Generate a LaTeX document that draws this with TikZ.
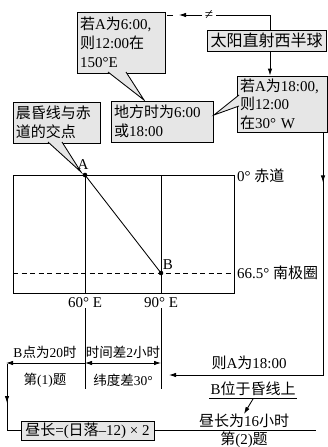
\documentclass[tikz,border=0pt]{standalone}
\usepackage{fontspec}
\setmainfont{Liberation Serif}
\newfontfamily\cjk{Noto Sans CJK SC}
\usetikzlibrary{arrows.meta,decorations.markings}
\newcommand{\zh}[1]{{\cjk #1}}
\definecolor{boxgray}{RGB}{230,230,230}
\tikzset{
  ln/.style={line width=0.85pt},
  gbox/.style={draw, fill=boxgray, line width=0.85pt, inner xsep=3pt, inner ysep=1pt, align=left, font=\fontsize{15}{19}\selectfont},
  lbl/.style={inner sep=0pt, font=\fontsize{15}{18}\selectfont},
  slbl/.style={inner sep=0pt, font=\fontsize{13.5}{16}\selectfont},
  ptr/.style={fill=boxgray},
  midarr/.style={postaction={decorate}, decoration={markings, mark=at position #1 with {\arrow{Latex[length=7pt,width=4.5pt]}}}},
  >={Latex[length=7pt,width=4.5pt]}
}
\begin{document}
\begin{tikzpicture}[x=1pt,y=-1pt]
\useasboundingbox (0,0) rectangle (328,447);

% boxes
\node[gbox, minimum width=88pt, minimum height=61pt, text width=82pt] (q1) at (121,42.5) {\zh{若}A\zh{为}6:00,\\\zh{则}12:00\zh{在}\\150°E};
\node[gbox, minimum width=119pt, minimum height=21pt, align=center, font=\fontsize{16}{19}\selectfont] (sun) at (266.5,40.5) {\zh{太阳直射西半球}};
\node[gbox, minimum width=90pt, minimum height=56pt, text width=84pt, font=\fontsize{15}{18.5}\selectfont] (q2) at (282,104) {\zh{若}A\zh{为}18:00,\\\zh{则}12:00\\\zh{在}30° W};
\node[gbox, minimum width=102pt, minimum height=41pt, text width=96pt] (lt) at (162,121.5) {\zh{地方时为}6:00\\\zh{或}18:00};
\node[gbox, minimum width=87pt, minimum height=41pt, text width=81pt] (jd) at (56.5,122.5) {\zh{晨昏线与赤}\\\zh{道的交点}};

% callout pointers
\coordinate (t1) at (144,100);
\coordinate (t2) at (214,115);
\coordinate (A) at (85,175);
\coordinate (B) at (161,273);
\fill[ptr] (108,72) -- (t1) -- (126,72) -- cycle;
\draw[ln] (108,72) -- (t1) -- (126,72);
\fill[ptr] (239,95) -- (t2) -- (239,106) -- cycle;
\draw[ln] (239,95) -- (t2) -- (239,106);
\fill[ptr] (48,142) -- (81,172) -- (62,142) -- cycle;
\draw[ln] (48,142) -- (81,172) -- (62,142);

% map
\draw[ln] (13,175) rectangle (234,293);
\draw[ln] (A) -- (A |- 0,293);
\draw[ln] (B |- 0,175) -- (B |- 0,293);
\draw[ln, dash pattern=on 5pt off 3.5pt] (13,273) -- (234,273);
\draw[ln] (A) -- (B);
\fill (A) circle (2.3pt);
\fill (B) circle (2.3pt);
\node[lbl] (la) at (83,165) {A};
\node[lbl] (lb) at (168,265) {B};
\node[lbl, anchor=west] (eq) at (237,176) {0° \zh{赤道}};
\node[lbl, anchor=west] (pc) at (237,273) {66.5° \zh{南极圈}};
\node[lbl] (l60) at (85,303) {60° E};
\node[lbl] (l90) at (161,303) {90° E};

% top connectors
\coordinate (c1) at (270,15);
\coordinate (c2) at (216,15);
\coordinate (c3) at (202,15);
\coordinate (c4) at (179,15);
\coordinate (c5) at (173,15);
\coordinate (c6) at (167,15);
\draw[ln] (sun.north -| c1) -- (c1) -- (c2);
\node[lbl] (ne) at (209,15) {≠};
\draw[ln, ->] (c3) -- (c4);
\draw[ln] (c5) -- (c6);
\draw[ln, ->] (sun.south -| c1) -- (q2.north -| c1);

% right path
\coordinate (r1) at (323,375);
\coordinate (r2) at (169,375);
\draw[ln, midarr=50pt, ->] (q2.south -| r1) -- (r1) -- (r2);
\node[lbl] (a18) at (249,363) {\zh{则}A\zh{为}18:00};
\node[lbl] (bhl) at (253,389) {B\zh{位于昏线上}};
\draw[ln] (209,398) -- (297,398);
\node[lbl] (d16) at (244,421) {\zh{昼长为}16\zh{小时}};
\draw[ln, ->] (bhl.south |- 0,399) -- (d16.north);
\node[lbl] (t2q) at (244,440) {\zh{第}(2)\zh{题}};

% lower left
\coordinate (v60) at (85,389);
\coordinate (v90) at (161,389);
\draw[ln] (l60.south) -- (v60);
\draw[ln] (l90.south) -- (v90);
\coordinate (m60) at (85,363);
\coordinate (m90) at (161,363);
\draw[ln, <->] (m60) -- (m90);
\node[slbl] (tdiff) at (123,352) {\zh{时间差}2\zh{小时}};
\node[slbl] (ldiff) at (123,380) {\zh{纬度差}30°};
\coordinate (lft) at (6,363);
\draw[ln, ->] (m60) -- (lft);
\node[slbl] (b20) at (45,352) {B\zh{点为}20\zh{时}};
\node[slbl] (t1q) at (45,380) {\zh{第}(1)\zh{题}};
\node[gbox, minimum width=133pt, minimum height=19pt, inner ysep=0pt, align=center] (day) at (87.5,430.5) {\zh{昼长}=(\zh{日落}–12) × 2};
\coordinate (lv) at (7,364);
\draw[ln, midarr=39pt] (lv) -- (lv |- day.west) -- (day.west);
\coordinate (be) at (316,430.5);
\draw[ln] (day.east) -- (be);
\end{tikzpicture}
\end{document}
